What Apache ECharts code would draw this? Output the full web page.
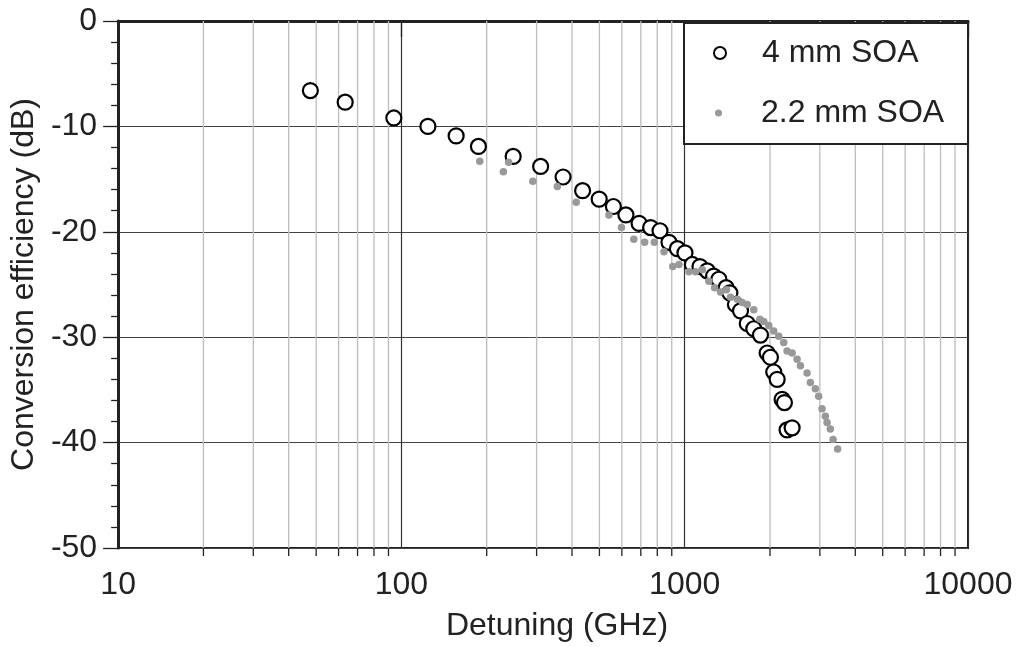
<!DOCTYPE html>
<html><head><meta charset="utf-8">
<script src="https://cdn.jsdelivr.net/npm/echarts@6/dist/echarts.min.js"></script>
<style>html,body{margin:0;padding:0;background:#fff}#c{width:1018px;height:647px}</style>
</head><body><div id="c"></div>
<script>
// ---- data ----
const soa4Detuning = [47.7,63.3,94,124,156,187,248,310,372,436,499,560,620,690,758,818,880,942,1002,1064,1132,1201,1265,1320,1400,1443,1510,1574,1662,1753,1851,1954,2007,2062,2120,2207,2249,2298,2394];
const soa4Eff      = [-6.6,-7.7,-9.2,-10.0,-10.9,-11.9,-12.85,-13.8,-14.8,-16.1,-16.9,-17.6,-18.4,-19.2,-19.6,-19.9,-21.0,-21.6,-22.0,-23.1,-23.3,-23.7,-24.2,-24.5,-25.3,-25.8,-26.9,-27.5,-28.7,-29.2,-29.8,-31.5,-31.9,-33.3,-34.0,-35.9,-36.2,-38.8,-38.6];
const soa22Detuning = [189,229,239,291,355,414,540,598,661,722,781,845,907,954,1035,1092,1154,1217,1275,1338,1404,1451,1532,1596,1662,1753,1841,1902,1981,2062,2148,2236,2298,2394,2493,2561,2704,2777,2892,2971,3053,3137,3180,3266,3339,3466];
const soa22Eff      = [-13.3,-14.3,-13.4,-15.2,-15.7,-17.2,-18.4,-19.6,-20.7,-21.0,-21.0,-21.9,-23.3,-23.1,-23.8,-23.8,-23.6,-24.7,-25.3,-25.7,-25.5,-26.2,-26.4,-26.7,-26.9,-27.4,-28.3,-28.5,-28.9,-29.4,-29.9,-30.5,-31.3,-31.5,-32.1,-32.7,-33.4,-34.3,-34.9,-35.6,-36.8,-37.5,-38.1,-38.7,-39.7,-40.6];
const seriesNames = ['4 mm SOA','2.2 mm SOA'];
const xMin = 10, xMax = 10000, yMin = -50, yMax = 0, yStep = 10;
const xMinorTicks = [20,30,40,50,60,70,80,90,200,300,400,500,600,700,800,900,2000,3000,4000,5000,6000,7000,8000,9000];
const xAxisTitle = 'Detuning (GHz)';
const yAxisTitle = 'Conversion efficiency (dB)';

const FONT = '"Liberation Sans", Arial, Helvetica, sans-serif';
const FS = 32;
const TXT = '#222';
const zip = (a,b) => a.map((v,i)=>[v,b[i]]);

const chart = echarts.init(document.getElementById('c'), null, {renderer:'canvas'});
chart.setOption({
  animation:false,
  backgroundColor:'#fff',
  textStyle:{fontFamily:FONT},
  grid:{left:116, right:50, top:21, bottom:98, show:true, borderColor:'#222', borderWidth:2, backgroundColor:'transparent'},
  xAxis:{
    type:'log', logBase:10, min:xMin, max:xMax,
    name:xAxisTitle, nameLocation:'middle', nameGap:62,
    nameTextStyle:{fontSize:FS, color:TXT, fontFamily:FONT, padding:[0,0,0,28]},
    axisLine:{show:true, lineStyle:{color:'#222', width:3}},
    axisTick:{show:true, inside:false, length:16, lineStyle:{color:'#222', width:1.3}},
    axisLabel:{fontSize:FS, color:TXT, margin:21, fontFamily:FONT, formatter:v=>String(Math.round(v))},
    splitLine:{show:true, lineStyle:{color:'#333', width:1.2}},
    minorTick:{show:false}
  },
  yAxis:{
    type:'value', min:yMin, max:yMax, interval:yStep,
    name:yAxisTitle, nameLocation:'middle', nameGap:78,
    nameTextStyle:{fontSize:FS, color:TXT, fontFamily:FONT},
    axisLine:{show:true, lineStyle:{color:'#222', width:3}},
    axisTick:{show:true, inside:false, length:15, lineStyle:{color:'#222', width:1.3}},
    minorTick:{show:true, splitNumber:5, length:7, lineStyle:{color:'#222', width:1.3}},
    axisLabel:{fontSize:FS, color:TXT, margin:21, fontFamily:FONT},
    splitLine:{show:true, lineStyle:{color:'#444', width:1.2}}
  },
  legend:[
    {data:[{name:seriesNames[0], itemStyle:{color:'#fff', borderColor:'#000', borderWidth:2}}],
     left:713, top:37, padding:0, itemWidth:12, itemHeight:12, z:10,
     textStyle:{fontSize:FS, color:TXT, fontFamily:FONT, padding:[0,0,0,31]}, selectedMode:false},
    {data:[{name:seriesNames[1], itemStyle:{color:'#999', borderWidth:0}}],
     left:715, top:97, padding:0, itemWidth:7, itemHeight:7, z:10,
     textStyle:{fontSize:FS, color:TXT, fontFamily:FONT, padding:[0,0,0,34]}, selectedMode:false}
  ],
  graphic:[
    {type:'rect', left:683, top:22, z:5, shape:{width:284, height:121}, style:{fill:'#fff', stroke:'#222', lineWidth:2}}
  ],
  series:[
    {
      type:'custom', name:'minor', silent:true, clip:false, z:1,
      data: xMinorTicks.map(v=>[v, yMin]),
      renderItem:(params, api)=>{
        const v = api.value(0);
        const top = api.coord([v, yMax]);
        const bot = api.coord([v, yMin]);
        return {type:'group', children:[
          {type:'line', shape:{x1:top[0], y1:top[1], x2:bot[0], y2:bot[1]}, style:{stroke:'#bdbdbd', lineWidth:1.3}},
          {type:'line', shape:{x1:bot[0], y1:bot[1], x2:bot[0], y2:bot[1]+8}, style:{stroke:'#222', lineWidth:1.3}}
        ]};
      }
    },
    {
      type:'scatter', name:seriesNames[0], z:3,
      data: zip(soa4Detuning, soa4Eff),
      symbol:'circle', symbolSize:15,
      itemStyle:{color:'#fff', borderColor:'#000', borderWidth:2.2, opacity:1}
    },
    {
      type:'scatter', name:seriesNames[1], z:4,
      data: zip(soa22Detuning, soa22Eff),
      symbol:'circle', symbolSize:7.5,
      itemStyle:{color:'#999', opacity:1}
    }
  ]
});
</script></body></html>
